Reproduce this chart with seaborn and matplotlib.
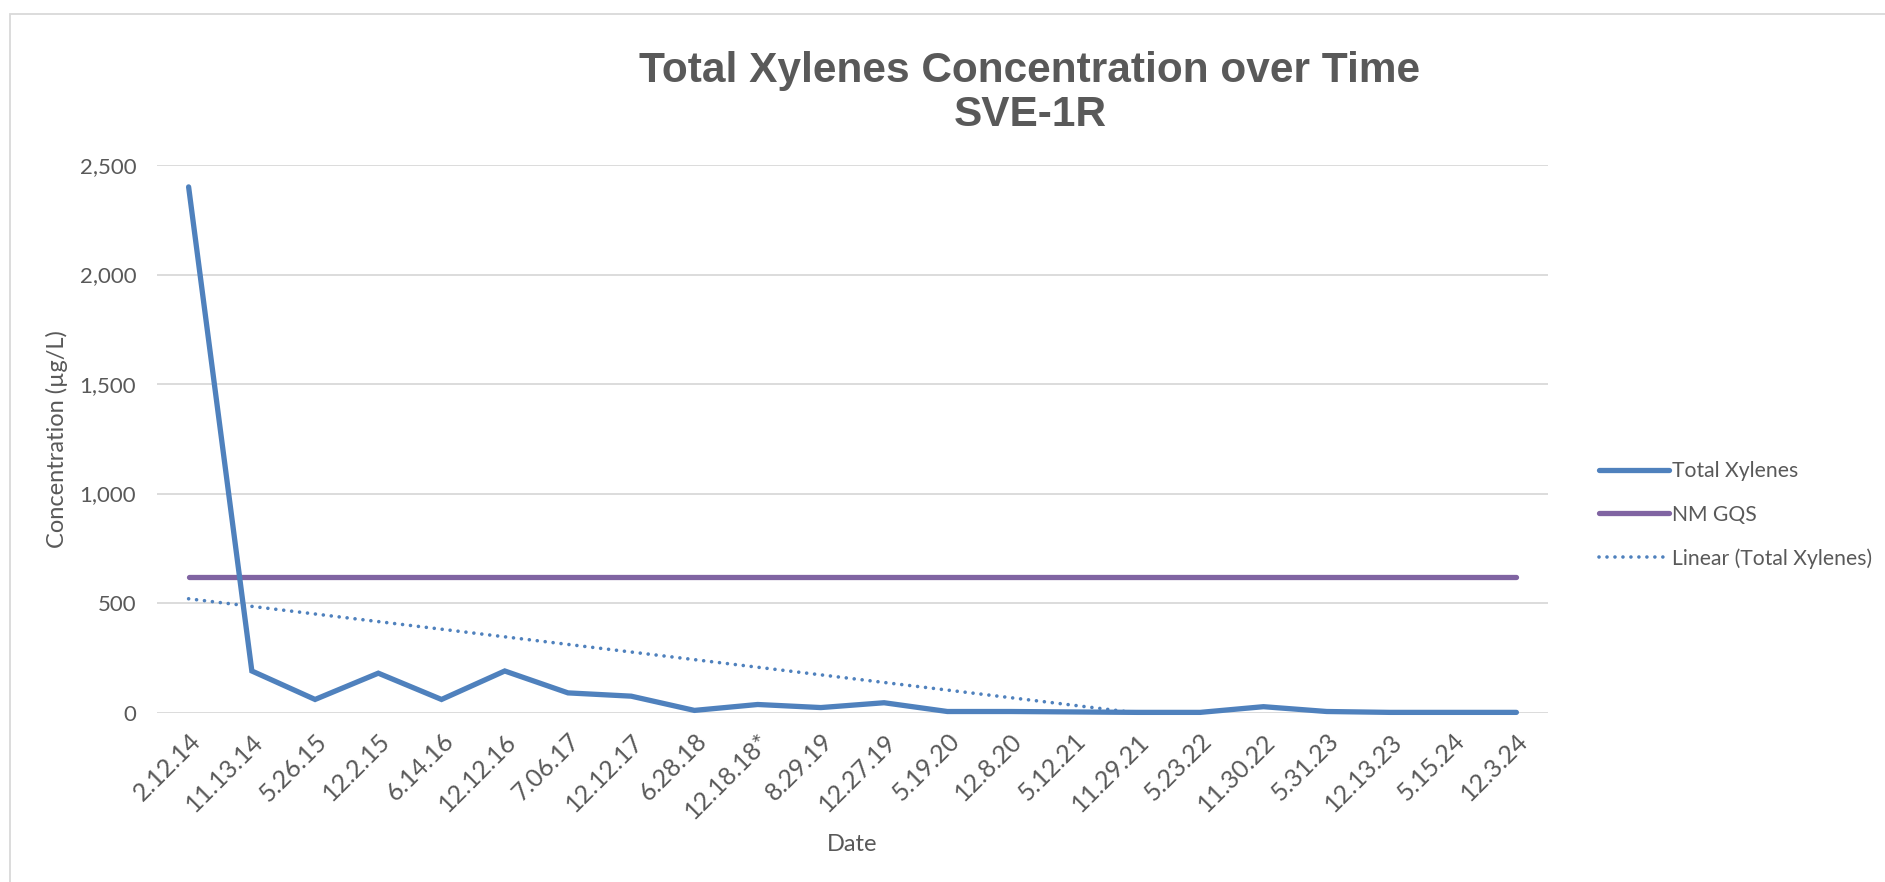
import numpy as np
import pandas as pd
import matplotlib
matplotlib.use('Agg')
import matplotlib.pyplot as plt
from matplotlib.patches import Rectangle
import seaborn as sns

# data
dates = ['2.12.14', '11.13.14', '5.26.15', '12.2.15', '6.14.16', '12.12.16',
         '7.06.17', '12.12.17', '6.28.18', '12.18.18*', '8.29.19', '12.27.19',
         '5.19.20', '12.8.20', '5.12.21', '11.29.21', '5.23.22', '11.30.22',
         '5.31.23', '12.13.23', '5.15.24', '12.3.24']
xylenes = [2400, 190, 60, 180, 60, 190, 90, 75, 10, 37, 23, 45,
           5, 5, 3, 1, 1, 27, 5, 1, 1, 1]
nm_gqs = 620
y_ticks = [0, 500, 1000, 1500, 2000, 2500]

GREY = '#595959'
BLUE = '#4F81BD'
PURPLE = '#8064A2'

sns.set_theme(style='white')
plt.rcParams['font.family'] = ['Lato', 'DejaVu Sans']

df = pd.DataFrame({'pos': np.arange(len(dates)), 'date': dates, 'val': xylenes})
df['gqs'] = nm_gqs

# Excel style linear trendline over 1..n, drawn until it hits the axis floor
xs = df['pos'] + 1
a, b = np.polyfit(xs, df['val'], 1)
x_end = -b / a
trend = pd.DataFrame({'pos': [0, x_end - 1], 'val': [a * 1 + b, 0]})

fig = plt.figure(figsize=(18.85, 8.82), dpi=100)
W, H = 1885, 882
ax = fig.add_axes([157 / W, 1 - 712.6 / H, (1548 - 157) / W, (712.6 - 165) / H])

for yv in y_ticks:
    ax.axhline(yv, color='#D9D9D9', lw=1.3, zorder=0)

sns.lineplot(data=df, x='pos', y='gqs', ax=ax, color=PURPLE, lw=3.8,
             label='NM GQS', solid_capstyle='round', clip_on=False, zorder=3)
sns.lineplot(data=trend, x='pos', y='val', ax=ax, color=BLUE, lw=2.6,
             label='Linear (Total Xylenes)', zorder=4, clip_on=False,
             linestyle=(0, (0.01, 2.2)), dash_capstyle='round')
sns.lineplot(data=df, x='pos', y='val', ax=ax, color=BLUE, lw=3.8,
             label='Total Xylenes', solid_capstyle='round',
             solid_joinstyle='miter', clip_on=False, zorder=5)

ax.set_xlim(-0.5, len(dates) - 0.5)
ax.set_ylim(0, 2500)
ax.set_yticks(y_ticks)
ax.set_yticklabels([f'{v:,}' for v in y_ticks])
ax.set_xticks(df['pos'])
ax.set_xticklabels(dates, rotation=45, ha='right', rotation_mode='anchor')
ax.tick_params(axis='both', length=0, colors=GREY)
ax.tick_params(axis='y', pad=15, labelsize=16)
ax.tick_params(axis='x', pad=12, labelsize=18)
for s in ax.spines.values():
    s.set_visible(False)

ax.set_xlabel('Date', fontsize=17, color=GREY)
ax.set_ylabel('Concentration (µg/L)', fontsize=17, color=GREY)
ax.xaxis.set_label_coords(0.5, -0.222)
ax.yaxis.set_label_coords(-0.064, 0.5)

fig.text(1030 / W, 1 - 93 / H, 'Total Xylenes Concentration over Time\nSVE-1R',
         ha='center', va='center', fontsize=30.5, fontweight='bold', color=GREY,
         family=['Liberation Sans', 'DejaVu Sans'], linespacing=1.1)

handles, labels = ax.get_legend_handles_labels()
order = [labels.index(l) for l in ['Total Xylenes', 'NM GQS', 'Linear (Total Xylenes)']]
ax.get_legend().remove()
leg = fig.legend([handles[i] for i in order], [labels[i] for i in order],
                 loc='center left', bbox_to_anchor=(1580 / W, 1 - 515 / H),
                 frameon=False, fontsize=15.2, handlelength=3.3,
                 handletextpad=0.15, labelspacing=1.1)
for t in leg.get_texts():
    t.set_color(GREY)

fig.patches.append(Rectangle((10 / W, -0.1), 1.1, 1.1 - 14 / H,
                             transform=fig.transFigure, fill=False,
                             edgecolor='#D9D9D9', lw=1.3))

fig.savefig('out.png', dpi=100)
